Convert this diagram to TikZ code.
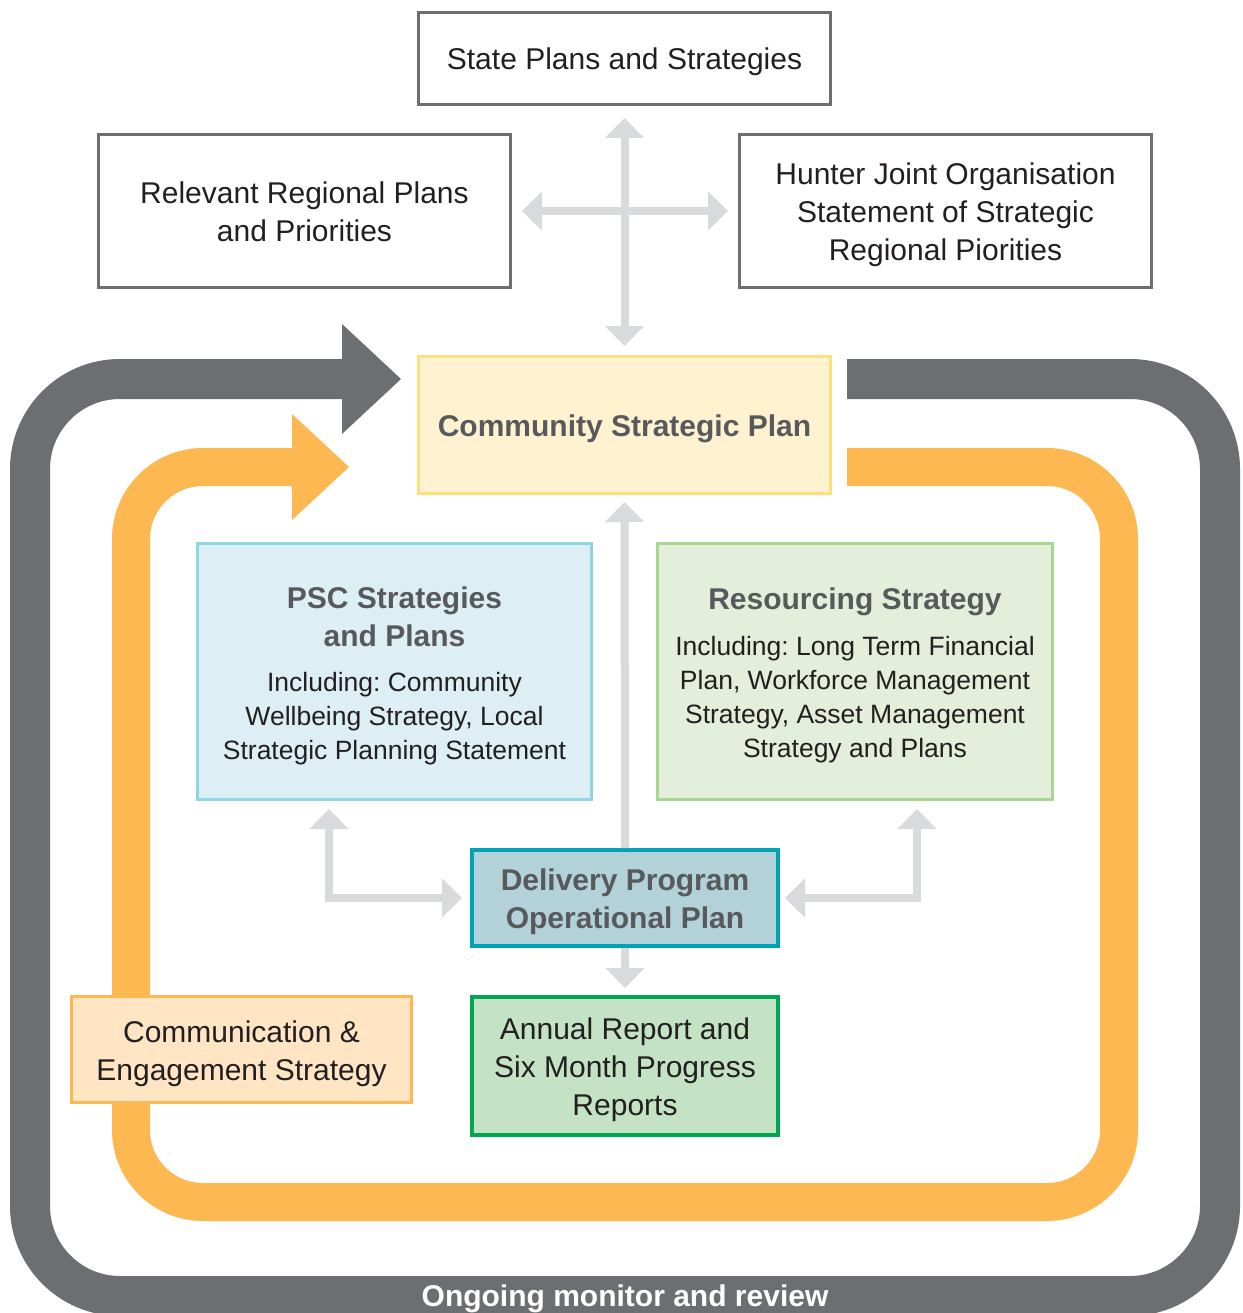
\documentclass[tikz,border=0pt]{standalone}
\usepackage{fontspec}
\setmainfont{Liberation Sans}
\usetikzlibrary{arrows.meta,calc}
\frenchspacing
\definecolor{loopgray}{HTML}{6D6E71}
\definecolor{looporange}{HTML}{FDB851}
\definecolor{lgray}{HTML}{D9DADC}
\definecolor{boxgray}{HTML}{6D6E71}
\definecolor{headgray}{HTML}{58595B}
\definecolor{txt}{HTML}{231F20}
\definecolor{cspdraw}{HTML}{FFDF7A}
\definecolor{cspfill}{HTML}{FFF2D1}
\definecolor{pscdraw}{HTML}{8ED6E3}
\definecolor{pscfill}{HTML}{DDEFF4}
\definecolor{resdraw}{HTML}{A6D690}
\definecolor{resfill}{HTML}{E3EFDA}
\definecolor{dpdraw}{HTML}{00A3B5}
\definecolor{dpfill}{HTML}{B3D1D9}
\definecolor{ardraw}{HTML}{00A651}
\definecolor{arfill}{HTML}{C4E3C4}
\definecolor{comdraw}{HTML}{FDB851}
\definecolor{comfill}{HTML}{FFE5C4}
\newcommand\sx{\rule[-7pt]{0pt}{37pt}}
\newcommand\bodyln[1]{{\mdseries\color{txt}\fontsize{26.5}{34}\selectfont\frenchspacing #1}}
\begin{document}
\begin{tikzpicture}[x=1pt,y=-1pt,
  bigfont/.style={font=\fontsize{30}{38}\selectfont\frenchspacing},
  boldfont/.style={font=\bfseries\fontsize{30}{38}\selectfont\frenchspacing},
  boxbase/.style={inner sep=0pt, align=center},
  plainbox/.style={draw=boxgray, line width=3pt, fill=white, boxbase, text=txt, bigfont},
  garrow/.style={draw=lgray, line width=8pt, -{Triangle[width=38pt,length=20pt]}},
  garrowboth/.style={draw=lgray, line width=8pt, {Triangle[width=38pt,length=20pt]}-{Triangle[width=38pt,length=20pt]}},
]
\useasboundingbox (0,0) rectangle (1242,1313);
\fill[white] (0,0) rectangle (1242,1313);
\begin{scope}
\clip (0,0) rectangle (1242,1313);
% gray loop
\draw[loopgray, line width=40pt, rounded corners=90pt] (847,379) -- (1220,379) -- (1220,1296) -- (30,1296) -- (30,379) -- (342,379);
\fill[loopgray] (342,324) -- (401,379) -- (342,434) -- cycle;
% orange loop
\draw[looporange, line width=38pt, rounded corners=72pt] (847,467) -- (1119,467) -- (1119,1202) -- (131,1202) -- (131,467) -- (292,467);
\fill[looporange] (292,414) -- (349,467) -- (292,520) -- cycle;
\end{scope}

\node[anchor=base, text=white, boldfont] (omr) at (625,1306) {Ongoing monitor and review};

% boxes
\node[plainbox, minimum width=412pt, minimum height=92pt] (state) at (624.5,58.5) {\sx State Plans and Strategies};
\node[plainbox, minimum width=412pt, minimum height=153pt] (reg) at (304.5,211) {\sx Relevant Regional Plans\\\sx and Priorities};
\node[plainbox, minimum width=412pt, minimum height=153pt] (hun) at (945.5,211) {\sx Hunter Joint Organisation\\\sx Statement of Strategic\\\sx Regional Piorities};
\node[draw=cspdraw, fill=cspfill, line width=3pt, minimum width=412pt, minimum height=137pt, boxbase, text=headgray, boldfont] (csp) at (624.5,425) {\sx Community Strategic Plan};

\node[draw=pscdraw, fill=pscfill, line width=3pt, minimum width=394pt, minimum height=256pt, boxbase, text=headgray, boldfont] (psc) at (394.5,671.5)
 {\sx PSC Strategies\\\sx and Plans\\[7pt]
  \bodyln{Including: Community}\\[-4pt]
  \bodyln{Wellbeing Strategy, Local}\\[-4pt]
  \bodyln{Strategic Planning Statement}};
\node[draw=resdraw, fill=resfill, line width=3pt, minimum width=395pt, minimum height=256pt, boxbase, text=headgray, boldfont] (res) at (855,671.5)
 {\sx Resourcing Strategy\\[8pt]
  \bodyln{Including: Long Term Financial}\\[-4pt]
  \bodyln{Plan, Workforce Management}\\[-4pt]
  \bodyln{Strategy, Asset Management}\\[-4pt]
  \bodyln{Strategy and Plans}};

\node[draw=dpdraw, fill=dpfill, line width=4pt, minimum width=306pt, minimum height=96pt, boxbase, text=headgray, boldfont] (dp) at (625,898) {\sx Delivery Program\\\sx Operational Plan};
\node[draw=ardraw, fill=arfill, line width=4pt, minimum width=306pt, minimum height=138pt, boxbase, text=txt, bigfont] (ar) at (625,1066) {\sx Annual Report and\\\sx Six Month Progress\\\sx Reports};
\node[draw=comdraw, fill=comfill, line width=3pt, minimum width=340pt, minimum height=106pt, boxbase, text=txt, bigfont] (com) at (241.5,1049.5) {\sx Communication \&\\\sx Engagement Strategy};

% connectors
\coordinate (pscA) at (329,809);
\coordinate (resA) at (917,809);
\draw[garrowboth, shorten <=12pt, shorten >=9pt] (state.south) -- (csp.north);
\draw[garrowboth, shorten <=10pt, shorten >=10pt] (reg.east) -- (hun.west);
\draw[garrow, shorten >=7pt] (dp.north) -- (csp.south);
\draw[garrow, shorten >=7pt] (dp.south) -- (ar.north);
\draw[garrowboth] (pscA) |- ([xshift=-8pt]dp.west);
\draw[garrowboth] (resA) |- ([xshift=5pt]dp.east);
\end{tikzpicture}
\end{document}
